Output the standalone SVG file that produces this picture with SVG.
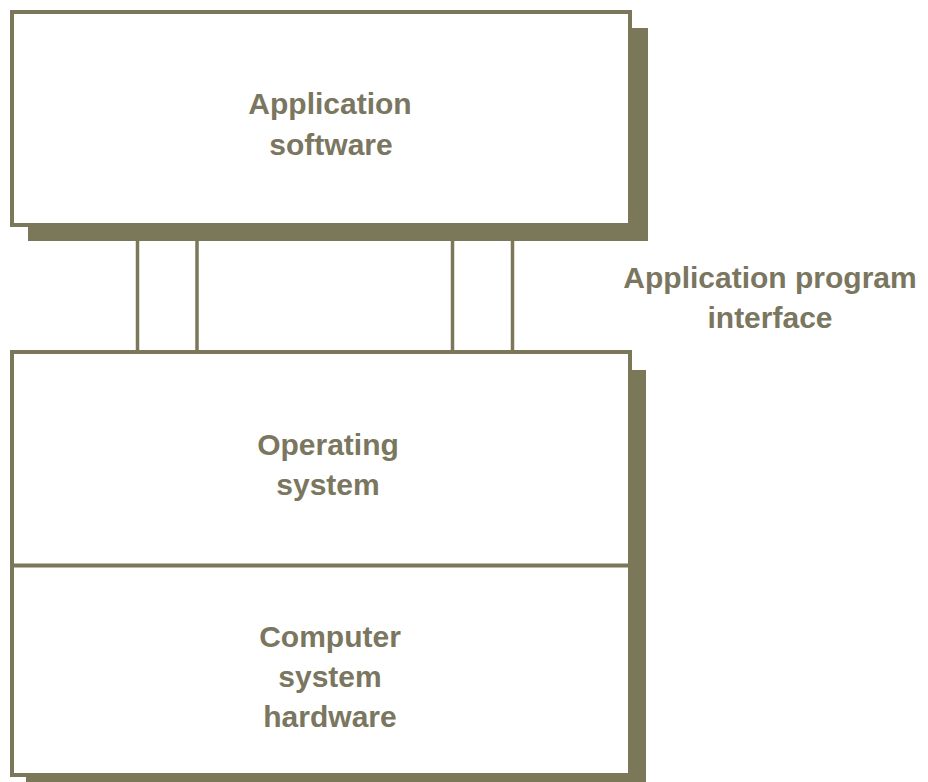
<svg xmlns="http://www.w3.org/2000/svg" width="928" height="782" viewBox="0 0 928 782">
<style>
.shadow{fill:#7b7759;stroke:none}
.box{fill:#ffffff;stroke:#7b7759;stroke-width:4}
.conn{stroke:#7b7759;stroke-width:3.5;fill:none}
.lbl{font-family:"Liberation Sans",Arial,sans-serif;font-weight:bold;font-size:30px;fill:#7a7660;text-anchor:middle}
</style>
<rect width="928" height="782" fill="#ffffff"/>
<g id="connectors">
<line class="conn" x1="137.5" y1="226" x2="137.5" y2="352"/>
<line class="conn" x1="197" y1="226" x2="197" y2="352"/>
<line class="conn" x1="452.5" y1="226" x2="452.5" y2="352"/>
<line class="conn" x1="512.5" y1="226" x2="512.5" y2="352"/>
</g>
<g id="application-software">
<rect class="shadow" x="28" y="28" width="620" height="213"/>
<rect class="box" x="12" y="12" width="618" height="213"/>
<text class="lbl" x="330" y="114">Application</text>
<text class="lbl" x="331" y="155">software</text>
</g>
<g id="api-label">
<text class="lbl" x="770" y="288">Application program</text>
<text class="lbl" x="770" y="328">interface</text>
</g>
<g id="lower-stack">
<rect class="shadow" x="26" y="370" width="620" height="420"/>
<rect class="box" x="12" y="352" width="618" height="423"/>
</g>
<g id="operating-system">
<line class="conn" x1="12" y1="565.5" x2="630" y2="565.5" style="stroke-width:4"/>
<text class="lbl" x="328" y="455">Operating</text>
<text class="lbl" x="328" y="495">system</text>
</g>
<g id="computer-hardware">
<text class="lbl" x="330" y="647">Computer</text>
<text class="lbl" x="330" y="687">system</text>
<text class="lbl" x="330" y="727">hardware</text>
</g>
</svg>
